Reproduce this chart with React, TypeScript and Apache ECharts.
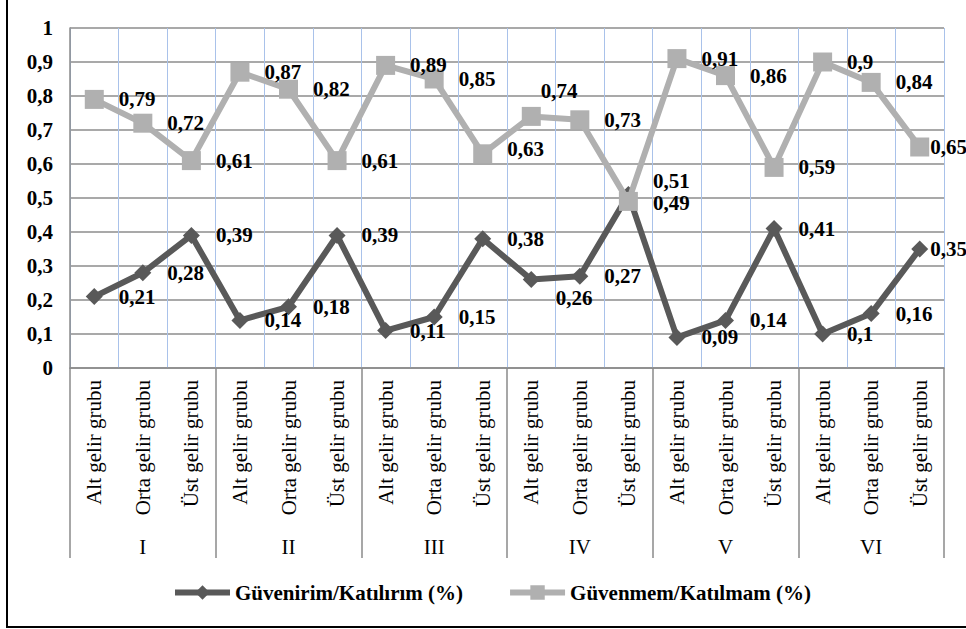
import React, { useEffect, useRef } from "react";
import * as echarts from "echarts";

const groups = ["I", "II", "III", "IV", "V", "VI"];
const subGroups = ["Alt gelir grubu", "Orta gelir grubu", "Üst gelir grubu"];
const categories = groups.flatMap(() => subGroups);
const trustValues = [0.21, 0.28, 0.39, 0.14, 0.18, 0.39, 0.11, 0.15, 0.38, 0.26, 0.27, 0.51, 0.09, 0.14, 0.41, 0.1, 0.16, 0.35];
const distrustValues = [0.79, 0.72, 0.61, 0.87, 0.82, 0.61, 0.89, 0.85, 0.63, 0.74, 0.73, 0.49, 0.91, 0.86, 0.59, 0.9, 0.84, 0.65];
const seriesNames = ["Güvenirim/Katılırım (%)", "Güvenmem/Katılmam (%)"];

const FONT = "Liberation Serif";
const fmt = (v: number) => String(Number(v.toFixed(2))).replace(".", ",");

// label nudges for crowded points (index -> offset)
const trustOffsets: Record<number, number[]> = { 9: [0, 18], 11: [0, -14], 17: [-14, 0] };
const distrustOffsets: Record<number, number[]> = { 8: [0, -5], 9: [-15, -25], 11: [0, 2], 17: [-14, 0] };

export default function App() {
  const ref = useRef<HTMLDivElement>(null);
  useEffect(() => {
    if (!ref.current) return;
    const chart = echarts.init(ref.current, undefined, { renderer: "svg" });
    const labelBase = {
      show: true,
      position: "right",
      fontFamily: FONT,
      fontWeight: "bold",
      fontSize: 21,
      color: "#000",
      formatter: (p: any) => fmt(p.value),
    };
    const mk = (vals: number[], offs: Record<number, number[]>) =>
      vals.map((v, i) => (offs[i] ? { value: v, label: { offset: offs[i] } } : v));
    chart.setOption({
      animation: false,
      backgroundColor: "#fff",
      textStyle: { fontFamily: FONT },
      grid: { left: 70, right: 22, top: 28, bottom: 261, containLabel: false },
      legend: {
        left: 167,
        top: 577,
        itemWidth: 55,
        itemHeight: 18,
        itemGap: 44,
        lineStyle: { width: 6 },
        textStyle: { fontFamily: FONT, fontWeight: "bold", fontSize: 21, color: "#000" },
        data: seriesNames,
      },
      xAxis: [
        {
          type: "category",
          data: categories,
          position: "bottom",
          axisLine: { show: true, lineStyle: { color: "#8a8a8a", width: 1.5 } },
          axisTick: { show: false },
          axisLabel: {
            rotate: 90,
            interval: 0,
            margin: 12,
            fontFamily: FONT,
            fontSize: 21,
            color: "#000",
          },
          splitLine: { show: true, interval: 0, lineStyle: { color: "#a9c2ea", width: 1 } },
        },
        {
          type: "category",
          data: groups,
          position: "bottom",
          offset: 0,
          axisLine: { show: false },
          axisTick: { show: true, length: 190, interval: 0, lineStyle: { color: "#8a8a8a", width: 1.5 } },
          axisLabel: { interval: 0, margin: 168, fontFamily: FONT, fontSize: 21, color: "#000" },
          splitLine: { show: false },
        },
      ],
      yAxis: {
        type: "value",
        min: 0,
        max: 1,
        interval: 0.1,
        axisLine: { show: true, lineStyle: { color: "#8a8a8a", width: 1.5 } },
        axisTick: { show: false },
        axisLabel: {
          margin: 17,
          fontFamily: FONT,
          fontWeight: "bold",
          fontSize: 21,
          color: "#000",
          formatter: (v: number) => fmt(v),
        },
        splitLine: { show: true, lineStyle: { color: "#8c8c8c", width: 1.5 } },
      },
      series: [
        {
          name: seriesNames[0],
          type: "line",
          data: mk(trustValues, trustOffsets),
          symbol: "diamond",
          symbolSize: 17,
          lineStyle: { color: "#595959", width: 6 },
          itemStyle: { color: "#595959" },
          label: { ...labelBase, distance: 16 },
          z: 3,
        },
        {
          name: seriesNames[1],
          type: "line",
          data: mk(distrustValues, distrustOffsets),
          symbol: "rect",
          symbolSize: 19,
          lineStyle: { color: "#b0b0b0", width: 6 },
          itemStyle: { color: "#b0b0b0" },
          label: { ...labelBase, distance: 15 },
          z: 4,
        },
      ],
      graphic: [
        { type: "line", shape: { x1: 7, y1: 0, x2: 7, y2: 627 }, style: { stroke: "#000", lineWidth: 2 } },
        { type: "line", shape: { x1: 6, y1: 627, x2: 966, y2: 627 }, style: { stroke: "#000", lineWidth: 2 } },
      ],
    });
    return () => chart.dispose();
  }, []);
  return (
    <div
      ref={ref}
      style={{ position: "fixed", left: 0, top: 0, width: 966, height: 629 }}
    />
  );
}
